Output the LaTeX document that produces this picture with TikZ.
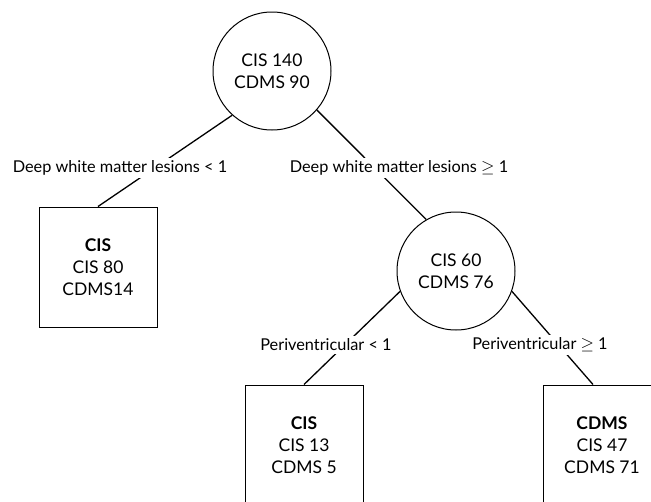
\documentclass[tikz,border=0pt]{standalone}
\usepackage{fontspec}
\setmainfont{Lato}
\usetikzlibrary{positioning}

\begin{document}
\begin{tikzpicture}[
    x=1pt, y=-1pt,
    split/.style={circle, draw, line width=1pt, minimum size=118pt, inner sep=0pt, align=center, font=\fontsize{17.5}{22}\selectfont},
    leaf/.style={rectangle, draw, line width=1pt, minimum width=118pt, minimum height=120pt, align=center, font=\fontsize{17.5}{22}\selectfont},
    rule/.style={fill=white, inner sep=2.5pt, font=\fontsize{16.3}{18}\selectfont},
    branch/.style={line width=1.3pt}
]
\useasboundingbox (0,0) rectangle (651,501);
\clip (0,0) rectangle (651,501);

% Split nodes
\node[split] (root) at (272,71) {CIS 140\\CDMS 90};
\node[split] (deep) at (456,271) {CIS 60\\CDMS 76};

% Leaves (bottom row runs off the page)
\node[leaf] (leafwm) at (98,267) {\textbf{CIS}\\CIS 80\\CDMS14};
\node[leaf] (leafpvlow) at (304,445) {\textbf{CIS}\\CIS 13\\CDMS 5};
\node[leaf] (leafpvhigh) at (602,445) {\textbf{CDMS}\\CIS 47\\CDMS 71};

% Branches
\draw[branch] (root.228) -- (leafwm.north);
\draw[branch] (root.319) -- (deep.120);
\draw[branch] (deep.200) -- (leafpvlow.north);
\draw[branch] (deep.340) -- ([xshift=-9pt]leafpvhigh.north);

% Split rules
\node[rule] (rulewmlow) at (120,168) {Deep white matter lesions < 1};
\node[rule] (rulewmhigh) at (399,168) {Deep white matter lesions $\geq$ 1};
\node[rule] (rulepvlow) at (326,345) {Periventricular < 1};
\node[rule] (rulepvhigh) at (540,345) {Periventricular $\geq$ 1};

\end{tikzpicture}
\end{document}
